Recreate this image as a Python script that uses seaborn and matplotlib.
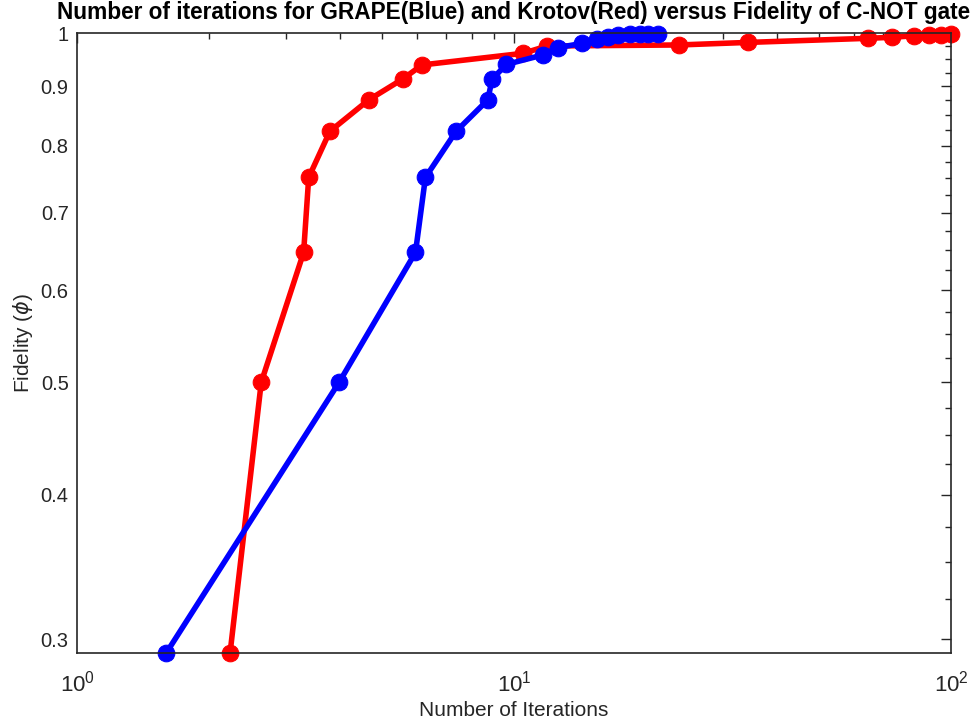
import numpy as np
import pandas as pd
import matplotlib
matplotlib.use("Agg")
import matplotlib.pyplot as plt
import matplotlib.ticker as mticker
import seaborn as sns

# GRAPE (blue) iterations vs fidelity
grape_iter = [1.60, 3.98, 5.95, 6.27, 7.37, 8.71, 8.91, 9.61, 11.67, 12.6,
              14.3, 15.5, 16.4, 17.3, 18.4, 19.4, 20.3, 21.4]
grape_fid = [0.292, 0.500, 0.647, 0.751, 0.823, 0.876, 0.913, 0.940, 0.958, 0.972,
             0.980, 0.988, 0.993, 0.996, 0.998, 0.999, 0.999, 0.998]

# Krotov (red) iterations vs fidelity
krotov_iter = [2.24, 2.64, 3.30, 3.39, 3.79, 4.65, 5.56, 6.16, 10.5, 11.9,
               23.8, 34.4, 64.5, 73.1, 82.2, 89.2, 94.9, 100.0]
krotov_fid = [0.292, 0.500, 0.647, 0.751, 0.823, 0.876, 0.913, 0.939, 0.961, 0.975,
              0.977, 0.982, 0.990, 0.992, 0.995, 0.996, 0.997, 0.998]

y_major = [0.3, 0.4, 0.5, 0.6, 0.7, 0.8, 0.9, 1.0]
y_major_labels = ["0.3", "0.4", "0.5", "0.6", "0.7", "0.8", "0.9", "1"]

sns.set_style("white")
plt.rcParams['font.family'] = ['Liberation Sans', 'DejaVu Sans']

grape = pd.DataFrame({"iter": grape_iter, "fid": grape_fid})
krotov = pd.DataFrame({"iter": krotov_iter, "fid": krotov_fid})

fig = plt.figure(figsize=(9.8, 7.23), dpi=100)
ax = fig.add_axes([0.0786, 0.0968, 0.8918, 0.8572])

line_kw = dict(marker="o", markersize=12, linewidth=4.0, sort=False,
               estimator=None, ax=ax)
sns.lineplot(data=krotov, x="iter", y="fid", color="#ff0000",
             markeredgecolor="#ff0000", **line_kw)
sns.lineplot(data=grape, x="iter", y="fid", color="#0000ff",
             markeredgecolor="#0000ff", **line_kw)
for ln in ax.lines:
    ln.set_clip_on(False)

ax.set_xscale("log")
ax.set_yscale("log")
ax.set_xlim(1, 100)
ax.set_ylim(0.292, 1.0)

ax.yaxis.set_major_locator(mticker.FixedLocator(y_major))
ax.yaxis.set_major_formatter(mticker.FixedFormatter(y_major_labels))
y_minor = [v for v in np.arange(0.3, 1.0001, 0.025)
           if not any(abs(v - m) < 1e-6 for m in y_major)]
ax.yaxis.set_minor_locator(mticker.FixedLocator(y_minor))
ax.yaxis.set_minor_formatter(mticker.NullFormatter())
ax.xaxis.set_major_locator(mticker.LogLocator(base=10))
ax.xaxis.set_minor_locator(mticker.LogLocator(base=10, subs=np.arange(2, 10)))
ax.xaxis.set_minor_formatter(mticker.NullFormatter())

ax.tick_params(which="both", direction="in", top=True, right=True,
               colors="#262626", width=1.0)
ax.tick_params(axis="y", which="major", labelsize=14.5, pad=6)
ax.tick_params(axis="x", which="major", labelsize=16, pad=13)
ax.tick_params(which="major", length=7)
ax.tick_params(which="minor", length=4)
for sp in ax.spines.values():
    sp.set_color("#262626")
    sp.set_linewidth(1.2)

ax.set_title("Number of iterations for GRAPE(Blue) and Krotov(Red) versus Fidelity of C-NOT gate",
             fontsize=16.3, fontweight="bold", color="black", pad=10)
ax.set_xlabel("Number of Iterations", fontsize=15, color="#262626", labelpad=3)
ax.set_ylabel(r"Fidelity ($\phi$)", fontsize=15, color="#262626", labelpad=4)

fig.savefig("out.png", dpi=100)
